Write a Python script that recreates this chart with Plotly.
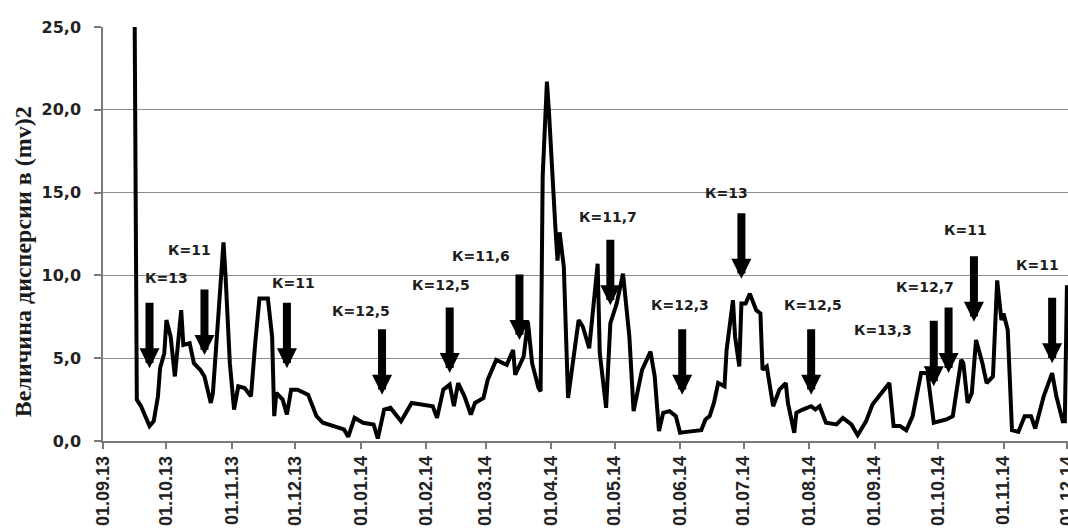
import plotly.graph_objects as go

# ---- data -------------------------------------------------------------
dates = [
    "2013-09-16", "2013-09-17", "2013-09-19", "2013-09-21", "2013-09-23", "2013-09-25",
    "2013-09-27", "2013-09-28", "2013-09-30", "2013-10-01", "2013-10-03", "2013-10-05",
    "2013-10-08", "2013-10-09", "2013-10-12", "2013-10-14", "2013-10-17", "2013-10-19",
    "2013-10-22", "2013-10-23", "2013-10-26", "2013-10-28", "2013-10-29", "2013-10-31",
    "2013-11-02", "2013-11-04", "2013-11-07", "2013-11-10", "2013-11-12", "2013-11-14",
    "2013-11-18", "2013-11-20", "2013-11-21", "2013-11-22", "2013-11-25", "2013-11-27",
    "2013-11-29", "2013-12-02", "2013-12-07", "2013-12-09", "2013-12-11", "2013-12-14",
    "2013-12-19", "2013-12-24", "2013-12-26", "2013-12-29", "2014-01-02", "2014-01-07",
    "2014-01-09", "2014-01-12", "2014-01-15", "2014-01-20", "2014-01-25", "2014-01-29",
    "2014-02-04", "2014-02-06", "2014-02-09", "2014-02-12", "2014-02-14", "2014-02-16",
    "2014-02-19", "2014-02-22", "2014-02-24", "2014-02-28", "2014-03-02", "2014-03-06",
    "2014-03-11", "2014-03-14", "2014-03-15", "2014-03-19", "2014-03-21", "2014-03-23",
    "2014-03-26", "2014-03-27", "2014-03-28", "2014-03-30", "2014-03-31", "2014-04-03",
    "2014-04-04", "2014-04-05", "2014-04-07", "2014-04-09", "2014-04-14", "2014-04-16",
    "2014-04-19", "2014-04-23", "2014-04-24", "2014-04-27", "2014-04-29", "2014-05-02",
    "2014-05-05", "2014-05-08", "2014-05-10", "2014-05-14", "2014-05-18", "2014-05-20",
    "2014-05-22", "2014-05-24", "2014-05-27", "2014-05-30", "2014-06-01", "2014-06-04",
    "2014-06-11", "2014-06-13", "2014-06-15", "2014-06-17", "2014-06-19", "2014-06-22",
    "2014-06-23", "2014-06-26", "2014-06-27", "2014-06-29", "2014-06-30", "2014-07-02",
    "2014-07-04", "2014-07-07", "2014-07-09", "2014-07-10", "2014-07-12", "2014-07-15",
    "2014-07-18", "2014-07-21", "2014-07-22", "2014-07-25", "2014-07-26", "2014-07-29",
    "2014-08-02", "2014-08-04", "2014-08-06", "2014-08-09", "2014-08-14", "2014-08-17",
    "2014-08-21", "2014-08-24", "2014-08-28", "2014-08-31", "2014-09-05", "2014-09-08",
    "2014-09-10", "2014-09-13", "2014-09-16", "2014-09-19", "2014-09-23", "2014-09-26",
    "2014-09-29", "2014-10-05", "2014-10-08", "2014-10-12", "2014-10-13", "2014-10-15",
    "2014-10-17", "2014-10-19", "2014-10-22", "2014-10-24", "2014-10-27", "2014-10-29",
    "2014-10-31", "2014-11-01", "2014-11-03", "2014-11-05", "2014-11-08", "2014-11-11",
    "2014-11-14", "2014-11-16", "2014-11-20", "2014-11-24", "2014-11-26", "2014-11-29",
    "2014-11-30", "2014-12-01",
]
variance = [
    25.0, 2.5, 2.1, 1.5, 0.9, 1.2,
    2.7, 4.4, 5.3, 7.3, 6.3, 3.9,
    7.9, 5.8, 5.9, 4.7, 4.3, 3.9,
    2.3, 2.9, 8.3, 12.0, 9.9, 4.7,
    1.9, 3.3, 3.2, 2.7, 5.9, 8.6,
    8.6, 6.3, 1.5, 2.9, 2.5, 1.6,
    3.1, 3.1, 2.8, 2.1, 1.5, 1.1,
    0.9, 0.7, 0.25, 1.4, 1.1, 1.0,
    0.15, 1.9, 2.0, 1.2, 2.3, 2.2,
    2.1, 1.4, 3.1, 3.4, 2.1, 3.5,
    2.7, 1.6, 2.3, 2.6, 3.7, 4.9,
    4.6, 5.5, 4.0, 5.1, 7.2, 4.7,
    3.2, 3.0, 16.0, 21.7, 19.8, 12.9,
    10.9, 12.6, 10.5, 2.6, 7.3, 6.9,
    5.6, 10.7, 5.3, 2.0, 7.1, 8.3,
    10.1, 6.3, 1.8, 4.3, 5.4, 3.9,
    0.6, 1.7, 1.8, 1.5, 0.5, 0.55,
    0.65, 1.3, 1.5, 2.3, 3.5, 3.3,
    5.5, 8.5, 6.3, 4.5, 8.3, 8.3,
    8.9, 7.9, 7.7, 4.3, 4.5, 2.1,
    3.1, 3.5, 2.3, 0.5, 1.7, 1.9,
    2.1, 1.9, 2.1, 1.1, 1.0, 1.4,
    1.0, 0.35, 1.2, 2.2, 3.0, 3.5,
    0.9, 0.9, 0.65, 1.5, 4.1, 4.1,
    1.1, 1.3, 1.5, 4.9, 4.7, 2.3,
    2.9, 6.1, 4.7, 3.5, 3.9, 9.7,
    7.3, 7.7, 6.7, 0.65, 0.55, 1.5,
    1.5, 0.75, 2.7, 4.1, 2.7, 1.2,
    1.2, 9.4,
]

# K-index markers: label, arrow date, arrow tip value, label date, label value
k_labels = ["К=13", "К=11", "К=11", "К=12,5", "К=12,5", "К=11,6", "К=11,7",
            "К=12,3", "К=13", "К=12,5", "К=13,3", "К=12,7", "К=11", "К=11"]
k_arrow_dates = ["2013-09-23", "2013-10-19", "2013-11-27", "2014-01-11", "2014-02-12",
                 "2014-03-17", "2014-04-29", "2014-06-02", "2014-06-30", "2014-08-02",
                 "2014-09-29", "2014-10-06", "2014-10-18", "2014-11-24"]
k_arrow_values = [4.4, 5.2, 4.4, 2.8, 4.1, 6.1, 8.2, 2.8, 9.8, 2.8, 3.3, 4.1, 7.2, 4.7]
k_label_dates = ["2013-10-01", "2013-10-12", "2013-11-30", "2014-01-01", "2014-02-08",
                 "2014-02-27", "2014-04-28", "2014-06-01", "2014-06-23", "2014-08-03",
                 "2014-09-05", "2014-09-25", "2014-10-14", "2014-11-17"]
k_label_values = [9.85, 11.55, 9.55, 7.83, 9.43, 11.15, 13.55, 8.2, 15.0, 8.2, 6.7, 9.3,
                  12.75, 10.6]

y_title = "Величина дисперсии в (mv)2"

# ---- figure -----------------------------------------------------------
fig = go.Figure()
fig.add_trace(go.Scatter(
    x=dates, y=variance, mode="lines",
    line=dict(color="#000000", width=4),
    showlegend=False, hoverinfo="skip",
))

annotations = []
for lab, ad, av, ld, lv in zip(k_labels, k_arrow_dates, k_arrow_values,
                               k_label_dates, k_label_values):
    annotations.append(dict(
        x=ad, y=av, xref="x", yref="y", text="", showarrow=True,
        ax=0, ay=-67, arrowhead=2, arrowsize=0.5, arrowwidth=8,
        arrowcolor="#000000", standoff=0,
    ))
    annotations.append(dict(
        x=ld, y=lv, xref="x", yref="y", text=lab, showarrow=False,
        xanchor="center", yanchor="middle",
        font=dict(family="DejaVu Sans", size=14, color="#1e1e1e", weight="bold"),
    ))

annotations.append(dict(
    x=0, y=0.432, xref="paper", yref="paper", xshift=-80,
    text=y_title, showarrow=False, textangle=-90,
    xanchor="center", yanchor="middle",
    font=dict(family="Liberation Serif", size=24, color="#1a1a1a", weight="bold"),
))

fig.update_layout(
    width=1068, height=530,
    margin=dict(l=103, r=0, t=27, b=89, pad=0, autoexpand=False),
    paper_bgcolor="white", plot_bgcolor="white",
    separators=", ",
    annotations=annotations,
    showlegend=False,
)

fig.update_xaxes(
    type="date", automargin=False,
    range=["2013-09-01", "2014-12-01 12:00"],
    tick0="2013-09-01", dtick="M1", tickformat="%d.%m.%y",
    tickangle=-90, ticklabeloverflow="allow",
    ticks="outside", ticklen=6, tickcolor="#7a7a7a", tickwidth=1.5,
    showline=True, linecolor="#7a7a7a", linewidth=1.5,
    showgrid=False, zeroline=False,
    tickfont=dict(family="Liberation Sans", size=18, color="#222222", weight="bold"),
)
fig.update_yaxes(
    range=[0, 25], tick0=0, dtick=5, tickformat=".1f", automargin=False,
    ticks="outside", ticklen=7, tickcolor="#7a7a7a", tickwidth=1.5,
    ticklabelstandoff=10,
    showline=True, linecolor="#7a7a7a", linewidth=1.5,
    showgrid=True, gridcolor="#8c8c8c", gridwidth=1.3,
    zeroline=False,
    tickfont=dict(family="DejaVu Sans", size=16, color="#222222", weight="bold"),
)

fig.write_html(
    "out.html",
    config={"displayModeBar": False},
    post_script="document.body.style.margin='0';document.body.style.overflow='hidden';",
)
